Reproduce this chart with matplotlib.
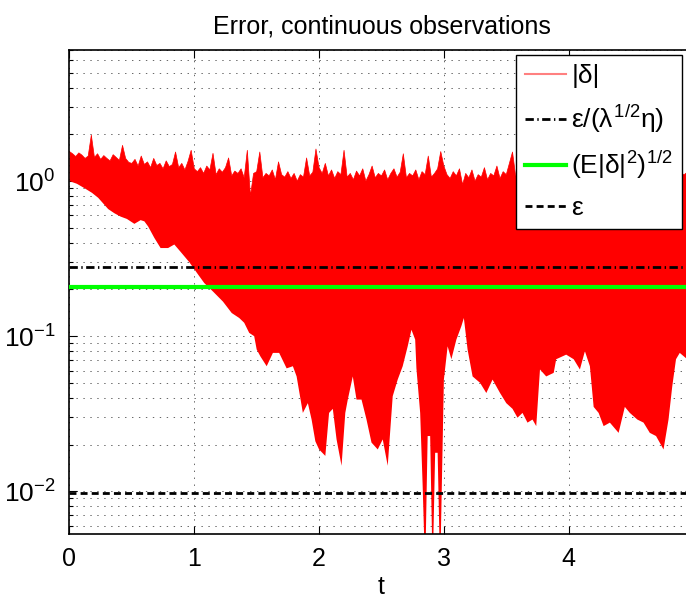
import numpy as np
import matplotlib
matplotlib.use("Agg")
import matplotlib.pyplot as plt
from matplotlib.ticker import LogLocator, NullFormatter, LogFormatterMathtext

plt.rcParams['font.family'] = ['Liberation Sans', 'DejaVu Sans']
plt.rcParams['mathtext.fontset'] = 'custom'
plt.rcParams['mathtext.rm'] = 'Liberation Sans'
plt.rcParams['mathtext.it'] = 'Liberation Sans'
plt.rcParams['mathtext.bf'] = 'Liberation Sans:bold'
plt.rcParams['lines.scale_dashes'] = False

# upper envelope of |delta|, one value every 0.025 in t
upper_vals = [
    1.55, 1.50, 1.44, 1.52, 1.47, 1.40, 1.45, 1.98, 1.42, 1.50, 1.38, 1.46, 1.40, 1.35, 1.48, 1.42, 1.36, 1.70, 1.40, 1.32,
    1.30, 1.38, 1.25, 1.45, 1.28, 1.33, 1.22, 1.40, 1.26, 1.30, 1.20, 1.35, 1.24, 1.28, 1.54, 1.22, 1.30, 1.18, 1.34, 1.58,
    1.20, 1.15, 1.22, 1.12, 1.25, 1.18, 1.51, 1.10, 1.20, 1.14, 1.22, 1.41, 1.08, 1.16, 1.12, 1.20, 1.05, 1.58, 0.80, 1.12,
    1.15, 1.54, 1.05, 1.12, 1.08, 1.18, 1.02, 1.33, 1.10, 1.06, 1.15, 1.04, 1.12, 1.00, 1.10, 1.06, 1.41, 1.08, 1.14, 1.61,
    1.22, 1.12, 1.30, 1.08, 1.18, 1.04, 1.15, 1.10, 1.58, 1.06, 1.12, 1.02, 1.16, 1.08, 1.20, 1.00, 1.10, 1.25, 1.05, 1.12,
    1.08, 1.18, 1.02, 1.12, 1.20, 1.06, 1.14, 1.50, 1.05, 1.12, 1.08, 1.18, 1.02, 1.15, 1.10, 1.45, 1.06, 1.12, 1.20, 1.55,
    1.25, 1.10, 1.04, 1.15, 1.08, 1.20, 0.95, 1.12, 1.05, 1.18, 1.00, 1.10, 1.06, 1.22, 1.02, 1.12, 1.08, 1.25, 1.04, 1.15,
    1.10, 1.30, 1.54, 1.08, 1.15, 1.10, 1.12, 1.08, 1.15, 1.10, 1.12, 1.08, 1.15, 1.10, 1.12, 1.08, 1.15, 1.10, 1.12, 1.08,
    1.12, 1.10, 1.15, 1.08, 1.12, 1.10, 1.14, 1.08, 1.12, 1.10, 1.15, 1.08, 1.12, 1.10, 1.14, 1.08, 1.12, 1.10, 1.15, 1.08,
    1.12, 1.10, 1.14, 1.08, 1.12, 1.10, 1.15, 1.08, 1.12, 1.10, 1.14, 1.08, 1.12, 1.10, 1.15, 1.08, 1.12, 1.10, 1.14,
]

# lower envelope of |delta|
t_lower = [
    0.00, 0.06, 0.12, 0.18, 0.23, 0.31, 0.36, 0.41, 0.46, 0.52, 0.57, 0.60, 0.63, 0.68, 0.73, 0.79, 0.84, 0.89, 0.96,
    1.03, 1.08, 1.15, 1.23, 1.30, 1.36, 1.40, 1.44, 1.48, 1.50, 1.53, 1.58, 1.63, 1.68, 1.74, 1.79, 1.82, 1.87, 1.91,
    1.94, 1.97, 2.00, 2.05, 2.08, 2.11, 2.14, 2.18, 2.21, 2.23, 2.27, 2.30, 2.34, 2.38, 2.42, 2.47, 2.51, 2.55, 2.59,
    2.63, 2.67, 2.71, 2.74, 2.77, 2.78, 2.81, 2.83, 2.85, 2.87, 2.89, 2.91, 2.93, 2.95, 2.97, 3.00, 3.03, 3.06, 3.10,
    3.14, 3.16, 3.19, 3.23, 3.29, 3.34, 3.39, 3.45, 3.50, 3.55, 3.59, 3.63, 3.67, 3.71, 3.74, 3.77, 3.82, 3.88, 3.90,
    3.98, 4.04, 4.09, 4.13, 4.17, 4.20, 4.24, 4.28, 4.33, 4.40, 4.45, 4.49, 4.55, 4.60, 4.65, 4.70, 4.76, 4.80, 4.83,
    4.86, 4.89, 4.95,
]
lower_vals = [
    1.00, 0.96, 0.90, 0.84, 0.78, 0.66, 0.62, 0.59, 0.57, 0.53, 0.56, 0.55, 0.51, 0.43, 0.37, 0.37, 0.39, 0.35, 0.30,
    0.25, 0.22, 0.194, 0.167, 0.141, 0.131, 0.122, 0.105, 0.100, 0.082, 0.074, 0.064, 0.078, 0.078, 0.062, 0.064, 0.055, 0.032, 0.037,
    0.029, 0.021, 0.0186, 0.0169, 0.032, 0.034, 0.0216, 0.0146, 0.032, 0.039, 0.055, 0.039, 0.039, 0.029, 0.0206, 0.0186, 0.0216, 0.0146, 0.041,
    0.0525, 0.064, 0.086, 0.110, 0.095, 0.062, 0.032, 0.0108, 0.003, 0.0227, 0.0227, 0.003, 0.0177, 0.0177, 0.003, 0.0525, 0.086, 0.071, 0.095,
    0.116, 0.131, 0.082, 0.055, 0.050, 0.043, 0.0525, 0.043, 0.037, 0.034, 0.0298, 0.032, 0.0277, 0.029, 0.0263, 0.061, 0.055, 0.058, 0.071,
    0.076, 0.071, 0.061, 0.080, 0.064, 0.035, 0.032, 0.0263, 0.0277, 0.0238, 0.035, 0.032, 0.029, 0.0277, 0.0238, 0.0227, 0.0186, 0.029, 0.0475,
    0.071, 0.078, 0.071,
]

noise_level = 0.279   # eps/(lambda^1/2 eta)
rms_error = 0.206     # (E|delta|^2)^1/2
eps = 0.0098

t_upper = np.linspace(0, 4.95, len(upper_vals))

fig = plt.figure(figsize=(6.86, 5.99), dpi=100)
ax = fig.add_axes([0.1013, 0.1085, 0.9096, 0.808])
ax.set_yscale('log')

poly_t = np.concatenate([t_upper, np.array(t_lower)[::-1]])
poly_v = np.concatenate([upper_vals, np.array(lower_vals)[::-1]])
ax.fill(poly_t, poly_v, color='#ff0000', lw=0, zorder=2)
ax.plot(t_upper, upper_vals, color='#ff0000', lw=0.5, label='|δ|', zorder=2)

ax.axhline(noise_level, color='k', lw=2, dashes=(6, 2.5, 1, 2.5),
           label=r'$ε/(λ^{1/2}η)$', zorder=3)
ax.axhline(rms_error, color='#00ff00', lw=3, label=r'$(E|δ|^2)^{1/2}$', zorder=3)
ax.axhline(eps, color='k', lw=2, dashes=(5, 3), label='ε', zorder=3)

ax.set_xlim(0, 5)
ax.set_ylim(0.0053, 7)
ax.set_xticks([0, 1, 2, 3, 4])
ax.yaxis.set_major_locator(LogLocator(base=10, numticks=10))
ax.yaxis.set_minor_locator(LogLocator(base=10, subs=np.arange(2, 10), numticks=20))
ax.yaxis.set_major_formatter(LogFormatterMathtext())
ax.yaxis.set_minor_formatter(NullFormatter())

ax.tick_params(which='both', direction='in', top=True, right=True, width=0.8)
ax.tick_params(which='major', length=6)
ax.tick_params(which='minor', length=3)
ax.tick_params(axis='x', labelsize=18, pad=9)
ax.tick_params(axis='y', labelsize=19, pad=10)

gs = dict(color='0.3', linestyle=(0, (1, 4)), lw=0.6)
ax.grid(True, which='major', axis='x', **gs)
ax.grid(True, which='both', axis='y', **gs)
ax.set_axisbelow(True)
for s in ax.spines.values():
    s.set_linewidth(1.2)

ax.set_xlabel('t', fontsize=18, labelpad=3)
ax.set_title('Error, continuous observations', fontsize=18, pad=12)

leg = ax.legend(loc='upper left', bbox_to_anchor=(0.7155, 0.9897), borderaxespad=0,
                fontsize=19, frameon=True, fancybox=False, edgecolor='k', framealpha=1,
                handlelength=1.55, handletextpad=0.2, labelspacing=0.55, borderpad=0.35)
leg.get_frame().set_linewidth(1.0)
for h in leg.get_lines():
    if h.get_label() == '|δ|':
        h.set_color('#ff8080')
        h.set_linewidth(1.5)

fig.savefig('out.png', dpi=100)
